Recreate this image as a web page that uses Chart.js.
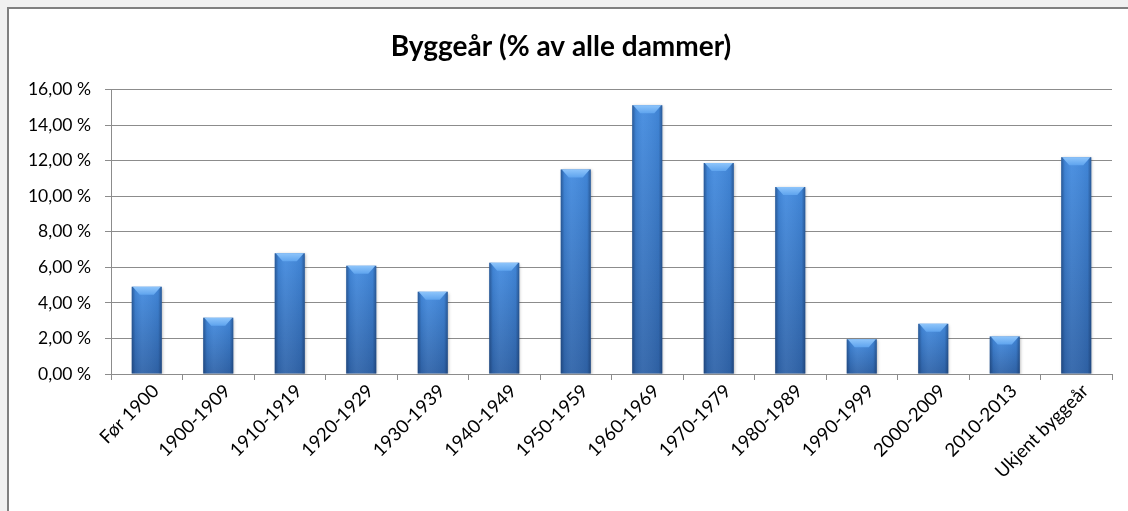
<!DOCTYPE html>
<html>
<head>
<meta charset="utf-8">
<script src="https://cdn.jsdelivr.net/npm/chart.js@4/dist/chart.umd.min.js"></script>
<style>
  html, body { margin: 0; padding: 0; background: #f0f0f0; overflow: hidden; }
  #frame { position: absolute; left: 7px; top: 7px; width: 1200px; height: 600px;
           background: #fff; border-left: 2px solid #7f7f7f; border-top: 2px solid #7f7f7f; }
  #wrap { position: absolute; left: 0; top: 0; width: 1128px; height: 511px; }
</style>
</head>
<body>
<div id="frame"></div>
<div id="wrap"><canvas id="byggeaarChart"></canvas></div>
<script>
// Byggeår — share of all dams per construction period
const periods = ['Før 1900', '1900-1909', '1910-1919', '1920-1929', '1930-1939', '1940-1949',
    '1950-1959', '1960-1969', '1970-1979', '1980-1989', '1990-1999', '2000-2009',
    '2010-2013', 'Ukjent byggeår'];
const shares = [4.91, 3.17, 6.79, 6.09, 4.63, 6.26, 11.51, 15.12, 11.87, 10.52, 1.96, 2.82, 2.11, 12.20];
const yTicks = [0, 2, 4, 6, 8, 10, 12, 14, 16];

const FONT = 'Lato, "Open Sans", sans-serif';

// vertical fill per bar, from its own top down to the base
function barFill(c) {
    const chart = c.chart, area = chart.chartArea;
    if (!area || c.dataIndex === undefined) return '#3a78c6';
    const y = chart.scales.y;
    const top = y.getPixelForValue(shares[c.dataIndex]);
    const base = y.getPixelForValue(0);
    const g = chart.ctx.createLinearGradient(0, top, 0, base);
    g.addColorStop(0, '#448ce0');
    g.addColorStop(1, '#3064a9');
    return g;
}

// darker side edges, a lighter bevel on top and a soft shadow
const bevelBars = {
    id: 'bevelBars',
    beforeDatasetsDraw(chart) {
        const ctx = chart.ctx;
        ctx.save();
        ctx.shadowColor = 'rgba(0,0,0,0.3)';
        ctx.shadowBlur = 3;
        ctx.shadowOffsetX = 1;
        ctx.shadowOffsetY = 1;
    },
    afterDatasetsDraw(chart) {
        const ctx = chart.ctx;
        ctx.restore();
        chart.getDatasetMeta(0).data.forEach(bar => {
            const w = bar.width, x0 = bar.x - w / 2, x1 = bar.x + w / 2, top = bar.y;
            const h = bar.base - top;
            const gs = ctx.createLinearGradient(x0, 0, x1, 0);
            gs.addColorStop(0, 'rgba(15,40,80,0.5)');
            gs.addColorStop(0.12, 'rgba(15,40,80,0.08)');
            gs.addColorStop(0.35, 'rgba(255,255,255,0.05)');
            gs.addColorStop(0.88, 'rgba(15,40,80,0.08)');
            gs.addColorStop(1, 'rgba(15,40,80,0.5)');
            ctx.fillStyle = gs;
            ctx.fillRect(x0, top, w, h);

            const b = 8;
            const g = ctx.createLinearGradient(0, top, 0, top + b);
            g.addColorStop(0, '#8ec5fb');
            g.addColorStop(1, '#5fa4ee');
            ctx.fillStyle = g;
            ctx.beginPath();
            ctx.moveTo(x0 + 1, top);
            ctx.lineTo(x1 - 1, top);
            ctx.lineTo(x1 - b, top + b);
            ctx.lineTo(x0 + b, top + b);
            ctx.closePath();
            ctx.fill();
        });
    }
};

new Chart(document.getElementById('byggeaarChart'), {
    type: 'bar',
    data: {
        labels: periods,
        datasets: [{
            label: 'Byggeår',
            data: shares,
            backgroundColor: barFill,
            borderWidth: 0,
            categoryPercentage: 1,
            barPercentage: 0.42
        }]
    },
    options: {
        responsive: true,
        maintainAspectRatio: false,
        animation: false,
        layout: { padding: { left: 10, right: 16, top: 0, bottom: 0 } },
        plugins: {
            legend: { display: false },
            tooltip: { enabled: false },
            title: {
                display: true,
                text: 'Byggeår (% av alle dammer)',
                color: '#000',
                font: { family: FONT, size: 28, weight: 'bold' },
                padding: { top: 30, bottom: 26 }
            }
        },
        scales: {
            y: {
                min: 0, max: 16,
                afterBuildTicks: s => { s.ticks = yTicks.map(v => ({ value: v })); },
                afterFit: s => { s.width = 101; },
                ticks: {
                    color: '#000',
                    font: { family: FONT, size: 17.5 },
                    padding: 14,
                    callback: v => v.toFixed(2).replace('.', ',') + ' %'
                },
                grid: { color: '#8c8c8c', lineWidth: 1, tickLength: 6 },
                border: { color: '#8c8c8c' }
            },
            x: {
                afterFit: s => { s.height = 137; },
                ticks: {
                    color: '#000',
                    font: { family: FONT, size: 18.5 },
                    minRotation: 45, maxRotation: 45,
                    autoSkip: false,
                    labelOffset: 9,
                    padding: 0
                },
                grid: { offset: true, drawOnChartArea: false, color: '#8c8c8c', tickLength: 6 },
                border: { color: '#8c8c8c' }
            }
        }
    },
    plugins: [bevelBars]
});
</script>
</body>
</html>
